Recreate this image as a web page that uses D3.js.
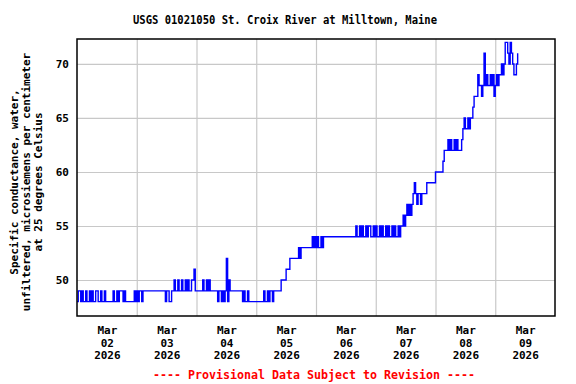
<!DOCTYPE html>
<html><head><meta charset="utf-8">
<script src="https://cdn.jsdelivr.net/npm/d3@7"></script>
<style>body{margin:0;background:#fff} svg{display:block}</style>
</head><body><svg id="c" width="576" height="384"></svg>
<script>
const title = "USGS 01021050 St. Croix River at Milltown, Maine";
const yLabelLines = ["Specific conductance, water,", "unfiltered, microsiemens per centimeter", "at 25 degrees Celsius"];
const footer = "---- Provisional Data Subject to Revision ----";
const startTime = "2026-03-02T00:00:00Z";
const stepMinutes = 30;
const yTicks = [50, 55, 60, 65, 70];
const dayTicks = ["2026-03-02","2026-03-03","2026-03-04","2026-03-05","2026-03-06","2026-03-07","2026-03-08","2026-03-09"];
const xDomain = ["2026-03-02T00:00:00Z", "2026-03-10T00:00:00Z"];
const yDomain = [46.67, 72.31];

// Specific conductance, 30-minute readings starting Mar 02 00:00
const mar02 = [48,49,49,48,49,48,48,49,48,48,49,48,49,48,48,49,49,48,48,49,48,48,49,48,48,
  48,48,48,48, 49,48,48,49,48,49, 49,49,48,49, 48,48,48,48,48,48, 48,49,48];
const mar03 = [49,48,49,49,48, 49,49,49,49,49,49,49,49,49,49,49,49,49,49,49,49,49,49,
  48,49,49,48,48,49, 49,50,49,49,50,49,49, 50,49,49,50,49,50,49,49,50, 50,51, 49];
const mar04 = [49,49,49,49,49, 50,49,49,50,49,50,49,49, 49,49,49,49, 48,49,49,48,49,
  48,49,52,48,50,49,49,49, 49,49,49,49,49,49,49, 48,49,48,48,49,48, 48,48,48,48,48];
const mar05 = [48,48,48,48,48,48, 49,48,48,49,48,49,49,48,49, 49,49,49,49,49, 50,50,50,50,
  51,51,51, 52,52,52,52,52,52,52, 53,52,53, 53,53,53,53,53,53,53,53, 54,53,54];
const mar06 = [53,54,53,53,54,53,54,54,54, 54,54,54,54,54,54,54,54,54,54,54,54,54,54,54,54,54,54,54,54,54,54,54,
  55,54,54,55,54,55,54,54,55,54,55,55,54,54,55,54];
const mar07 = [55,54,54,55,54,55,54,54,55,54,55,54,54,55,54,55,54,54,55,54,
  55,55, 56,55,56, 57,56,57,56, 57,58,59, 58,57,58,58,57,58, 58,58,58, 59,59,59,59,59,59,59];
const mar08 = [60, 60,60,60,60,60, 61, 62,62,62, 63,62,63,62,62,63,62,63,62,62,62, 63,
  64,65,64,64,65, 64,65,65, 66, 67,67,67, 69,68, 68,67,68, 71, 68,69,68,68,69,68,69, 67];
const mar09 = [68,69,68,69, 69,70,69,70, 72, 72,71, 70,72,71,70, 69,69, 70,71];
const values = [].concat(mar02, mar03, mar04, mar05, mar06, mar07, mar08, mar09);

const t0 = new Date(startTime).getTime();
const data = values.map((v, i) => ({t: new Date(t0 + i * stepMinutes * 60000), v}));

const svg = d3.select("#c");
const L = 77, R = 555, T = 39, B = 316;
const x = d3.scaleUtc().domain(xDomain.map(d => new Date(d))).range([L, R]);
const y = d3.scaleLinear().domain(yDomain).range([B, T]);
const font = "'DejaVu Sans Mono', 'Liberation Mono', monospace";

svg.append("rect").attr("width", 576).attr("height", 384).attr("fill", "#fff");

// grid
const midnights = dayTicks.slice(1).map(d => new Date(d + "T00:00:00Z"));
svg.append("g").attr("transform", `translate(0,${B})`)
  .call(d3.axisBottom(x).tickValues(midnights).tickSize(-(B - T)).tickFormat(""))
  .call(g => g.select(".domain").remove())
  .call(g => g.selectAll("line").attr("stroke", "#c8c8c8").attr("stroke-width", 1.2));
svg.append("g").attr("transform", `translate(${L},0)`)
  .call(d3.axisLeft(y).tickValues(yTicks).tickSize(-(R - L)).tickPadding(8).tickFormat(d3.format("d")))
  .call(g => g.select(".domain").remove())
  .call(g => g.selectAll("line").attr("stroke", "#c8c8c8").attr("stroke-width", 1.2))
  .call(g => g.selectAll("text").attr("font-family", font).attr("font-weight", "bold")
    .attr("font-size", 11).attr("fill", "#000"));

// x labels at noon
const noons = dayTicks.map(d => new Date(d + "T12:00:00Z"));
const xa = svg.append("g").attr("transform", `translate(0,${B})`)
  .call(d3.axisBottom(x).tickValues(noons).tickSize(0).tickFormat(""));
xa.select(".domain").remove();
xa.selectAll(".tick").each(function(d) {
  const txt = d3.select(this).append("text").attr("fill", "#000")
    .attr("font-family", font).attr("font-weight", "bold").attr("font-size", 11)
    .attr("text-anchor", "middle");
  const parts = [d3.utcFormat("%b")(d), d3.utcFormat("%d")(d), d3.utcFormat("%Y")(d)];
  parts.forEach((p, k) => txt.append("tspan").attr("x", 0).attr("y", 18 + k * 12.6).text(p));
});

// line
svg.append("clipPath").attr("id", "clip").append("rect")
  .attr("x", L).attr("y", T).attr("width", R - L).attr("height", B - T);
svg.append("path").datum(data)
  .attr("clip-path", "url(#clip)")
  .attr("fill", "none").attr("stroke", "#0000ff").attr("stroke-width", 1.4)
  .attr("d", d3.line().x(d => x(d.t)).y(d => y(d.v)).curve(d3.curveStepAfter));

// border
svg.append("rect").attr("x", L).attr("y", T).attr("width", R - L).attr("height", B - T)
  .attr("fill", "none").attr("stroke", "#000").attr("stroke-width", 1.5);

// title
svg.append("text").attr("x", 285).attr("y", 24).attr("text-anchor", "middle")
  .attr("font-family", font).attr("font-weight", "bold").attr("font-size", 11.5)
  .attr("textLength", 304).attr("lengthAdjust", "spacingAndGlyphs").text(title);

// y label
const yl = svg.append("text").attr("transform", "translate(0,182) rotate(-90)")
  .attr("text-anchor", "middle").attr("font-family", font).attr("font-weight", "bold").attr("font-size", 11);
yLabelLines.forEach((s, k) => yl.append("tspan").attr("x", 0).attr("y", 18 + k * 12).text(s));

// footer
svg.append("text").attr("x", 314).attr("y", 379).attr("text-anchor", "middle")
  .attr("font-family", font).attr("font-weight", "bold").attr("font-size", 12).attr("fill", "#ff0000")
  .attr("textLength", 322).attr("lengthAdjust", "spacingAndGlyphs").text(footer);
</script>
</body></html>
